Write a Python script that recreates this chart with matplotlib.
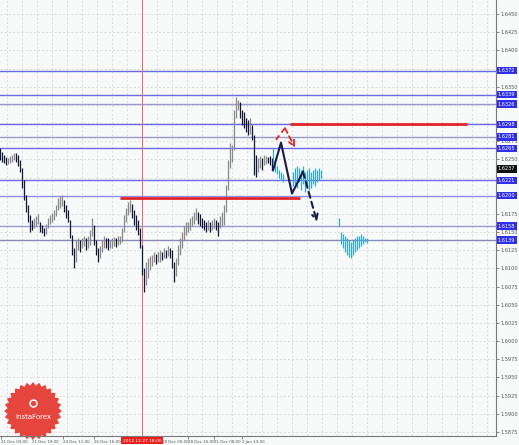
import numpy as np
import matplotlib
matplotlib.use("Agg")
import matplotlib.pyplot as plt

# ---- dados (barras H1, indice de barra = 2 px) ----
bar_x = np.arange(0, 137)
high = [1.6266, 1.6260, 1.6256, 1.6253, 1.6252, 1.6255, 1.6256, 1.6259, 1.6259, 1.6256,
        1.6249, 1.6238, 1.6222, 1.6201, 1.6187, 1.6174, 1.6167, 1.6169, 1.6172, 1.6175,
        1.6164, 1.6160, 1.6156, 1.6161, 1.6169, 1.6174, 1.6176, 1.6180, 1.6187, 1.6197,
        1.6200, 1.6201, 1.6194, 1.6187, 1.6180, 1.6167, 1.6146, 1.6128, 1.6139, 1.6142,
        1.6139, 1.6142, 1.6145, 1.6142, 1.6145, 1.6153, 1.6169, 1.6160, 1.6139, 1.6128,
        1.6131, 1.6139, 1.6145, 1.6142, 1.6142, 1.6139, 1.6142, 1.6143, 1.6142, 1.6145,
        1.6145, 1.6156, 1.6174, 1.6183, 1.6191, 1.6194, 1.6189, 1.6180, 1.6174, 1.6167,
        1.6156, 1.6132, 1.6100, 1.6109, 1.6114, 1.6117, 1.6118, 1.6122, 1.6120, 1.6122,
        1.6125, 1.6122, 1.6128, 1.6125, 1.6131, 1.6128, 1.6125, 1.6109, 1.6114, 1.6132,
        1.6142, 1.6150, 1.6158, 1.6164, 1.6164, 1.6169, 1.6172, 1.6178, 1.6183, 1.6178,
        1.6175, 1.6169, 1.6167, 1.6164, 1.6167, 1.6164, 1.6167, 1.6169, 1.6167, 1.6164,
        1.6172, 1.6178, 1.6187, 1.6215, 1.6249, 1.6273, 1.6270, 1.6318, 1.6336, 1.6332,
        1.6329, 1.6318, 1.6315, 1.6307, 1.6304, 1.6307, 1.6297, 1.6284, 1.6256, 1.6252,
        1.6255, 1.6252, 1.6256, 1.6255, 1.6253, 1.6255, 1.6252]
low = [1.6249, 1.6246, 1.6245, 1.6242, 1.6244, 1.6245, 1.6246, 1.6249, 1.6246, 1.6241,
       1.6233, 1.6211, 1.6194, 1.6178, 1.6164, 1.6150, 1.6153, 1.6156, 1.6158, 1.6161,
       1.6150, 1.6149, 1.6145, 1.6147, 1.6156, 1.6161, 1.6164, 1.6167, 1.6172, 1.6180,
       1.6183, 1.6186, 1.6178, 1.6169, 1.6164, 1.6142, 1.6118, 1.6100, 1.6109, 1.6125,
       1.6122, 1.6128, 1.6131, 1.6125, 1.6128, 1.6132, 1.6145, 1.6132, 1.6118, 1.6109,
       1.6114, 1.6122, 1.6128, 1.6128, 1.6125, 1.6128, 1.6128, 1.6131, 1.6129, 1.6132,
       1.6134, 1.6136, 1.6150, 1.6164, 1.6174, 1.6178, 1.6169, 1.6160, 1.6153, 1.6146,
       1.6128, 1.6091, 1.6068, 1.6077, 1.6087, 1.6098, 1.6103, 1.6109, 1.6106, 1.6109,
       1.6109, 1.6111, 1.6114, 1.6114, 1.6117, 1.6114, 1.6100, 1.6081, 1.6089, 1.6105,
       1.6118, 1.6128, 1.6139, 1.6146, 1.6150, 1.6153, 1.6158, 1.6161, 1.6167, 1.6161,
       1.6158, 1.6156, 1.6153, 1.6150, 1.6153, 1.6150, 1.6153, 1.6156, 1.6153, 1.6145,
       1.6156, 1.6158, 1.6160, 1.6178, 1.6208, 1.6238, 1.6246, 1.6263, 1.6307, 1.6318,
       1.6307, 1.6297, 1.6293, 1.6288, 1.6284, 1.6285, 1.6277, 1.6229, 1.6226, 1.6233,
       1.6238, 1.6235, 1.6242, 1.6244, 1.6245, 1.6242, 1.6235]

# previsao (barras azul-claro)
prev_x = [136.5, 137.5, 138.5, 139.5, 140.5, 141.5,
          146.5, 147.5, 148.5, 149.5, 150.5, 151.5, 152.5, 153.5, 154.5, 155.5, 156.5, 157.5,
          158.5, 159.5, 160.5,
          169.5,
          170.5, 171.5, 172.5, 173.5, 174.5, 175.5, 176.5, 177.5, 178.5, 179.5, 180.5, 181.5,
          182.5, 183.5]
prev_high = [1.6266, 1.6245, 1.6241, 1.6235, 1.6233, 1.6230,
             1.6233, 1.6238, 1.6241, 1.6238, 1.6235, 1.6241, 1.6233, 1.6235, 1.6238, 1.6233,
             1.6235, 1.6238, 1.6235, 1.6238, 1.6235,
             1.6169,
             1.6150, 1.6147, 1.6145, 1.6142, 1.6139, 1.6136, 1.6139, 1.6142, 1.6145, 1.6145,
             1.6147, 1.6145, 1.6142, 1.6142]
prev_low = [1.6245, 1.6233, 1.6230, 1.6224, 1.6222, 1.6219,
            1.6213, 1.6216, 1.6211, 1.6219, 1.6208, 1.6216, 1.6205, 1.6213, 1.6208, 1.6211,
            1.6216, 1.6213, 1.6219, 1.6222, 1.6224,
            1.6158,
            1.6134, 1.6128, 1.6122, 1.6118, 1.6116, 1.6114, 1.6118, 1.6122, 1.6125, 1.6128,
            1.6131, 1.6134, 1.6136, 1.6135]

# niveis horizontais
niveis = [1.6372, 1.6339, 1.6326, 1.6298, 1.6281, 1.6265, 1.6221, 1.6200, 1.6158, 1.6139]
niveis_cor = ['#6a6ae6', '#6a6ae6', '#9a9acc', '#6a6ae6', '#9a9acc',
              '#6a6ae6', '#6a6ae6', '#8f8fe8', '#9a9acc', '#8a8ab8']
preco_atual = 1.6237

# linhas vermelhas (resistencia / suporte)
red_x = [[145, 233.5], [60, 150]]
red_y = [[1.6298, 1.6298], [1.6197, 1.6197]]

# setas de previsao
seta_vermelha_x = [138, 142.5, 147.5]
seta_vermelha_y = [1.6277, 1.6293, 1.6266]
seta_azul_x = [136.5, 140.5, 146, 151.5]
seta_azul_y = [1.6235, 1.6273, 1.6203, 1.6233]
seta_azul_fim_x = [151.5, 158.5]
seta_azul_fim_y = [1.6233, 1.6164]

yticks = np.arange(1.5875, 1.6451, 0.0025)
xtick_pos = [0.5, 16, 31.5, 47, 81, 94, 107, 121]
xtick_lab = ['21 Dec 03:00', '21 Dec 19:00', '24 Dec 11:00', '26 Dec 16:00',
             '28 Dec 00:00', '28 Dec 16:00', '31 Dec 08:00', '2 Jan 13:00']
cursor_x = 71
cursor_lab = '2012.12.27 18:00'

fundo = '#f7faf8'

fig = plt.figure(figsize=(5.19, 4.45), dpi=100, facecolor=fundo)

# eixo auxiliar em pixels (so para posicionar o logo)
ov = fig.add_axes([0, 0, 1, 1], facecolor='none', zorder=0)
ov.set_xlim(0, 519)
ov.set_ylim(445, 0)
ov.axis('off')

ax = fig.add_axes([0, 9 / 445, 496 / 519, 436 / 445], facecolor='none', zorder=1)
ax.set_xlim(0, 248)
ax.set_ylim(1.58693, 1.64693)

# grade pontilhada
for gx in np.arange(3.5, 248, 7.5):
    ax.axvline(gx, color='#cfd3cf', lw=0.5, ls=(0, (3, 3)), zorder=0)
for gy in yticks:
    ax.axhline(gy, color='#cfd3cf', lw=0.5, ls=(0, (3, 3)), zorder=0)

# niveis
for nv, cor in zip(niveis, niveis_cor):
    ax.axhline(nv, color=cor, lw=1.0, zorder=1)

ax.axvline(cursor_x, color='#e06a6a', lw=0.7, zorder=1)

for xs, ys in zip(red_x, red_y):
    ax.plot(xs, ys, color='#e3242b', lw=2.0, solid_capstyle='butt', zorder=3)

# barras de preco
high = np.array(high)
low = np.array(low)
meio = (high + low) / 2
cores = ['#8a8a8a' if i > 0 and meio[i] >= meio[i - 1] else '#16163a' for i in range(len(meio))]
ax.vlines(bar_x, low, high, colors=cores, lw=0.9, zorder=2)

ax.vlines(prev_x, prev_low, prev_high, colors='#35aacf', lw=0.9, zorder=2)

# setas
ax.plot(seta_vermelha_x[:-1], seta_vermelha_y[:-1], color='#e3242b', lw=1.3, ls=(0, (3, 2)), zorder=4)
ax.annotate('', xy=(seta_vermelha_x[-1], seta_vermelha_y[-1]),
            xytext=(seta_vermelha_x[-2], seta_vermelha_y[-2]),
            arrowprops=dict(arrowstyle='->', color='#e3242b', lw=1.3, ls=(0, (3, 2)),
                            shrinkA=0, shrinkB=0), zorder=4)
ax.plot(seta_azul_x, seta_azul_y, color='#1b1b4b', lw=1.5, zorder=4)
ax.annotate('', xy=(seta_azul_fim_x[1], seta_azul_fim_y[1]),
            xytext=(seta_azul_fim_x[0], seta_azul_fim_y[0]),
            arrowprops=dict(arrowstyle='->', color='#1b1b4b', lw=1.5, ls=(0, (3, 2)),
                            shrinkA=0, shrinkB=0), zorder=4)

# logo InstaForex (acima da grade, abaixo dos rotulos do eixo)
ang = np.linspace(0, 2 * np.pi, 57)
raio = np.where(np.arange(57) % 2 == 0, 28, 24.5)
ax.fill(33 + raio * np.cos(ang), 411 + raio * np.sin(ang), color='#e5453c',
        transform=ov.transData, clip_on=False, zorder=2.2)
ax.plot(33, 403, 'o', ms=5, mfc='none', mec='white', mew=1.1,
        transform=ov.transData, clip_on=False, zorder=2.3)
ax.text(33, 417, 'InstaForex', color='white', fontsize=5, ha='center', va='center',
        transform=ov.transData, clip_on=False, zorder=2.3)

# eixos
for s in ['left', 'top']:
    ax.spines[s].set_visible(False)
for s in ['right', 'bottom']:
    ax.spines[s].set_color('#7a7a7a')
    ax.spines[s].set_linewidth(0.8)
ax.yaxis.tick_right()
# rotulos escondidos pelas caixas de nivel ficam de fora
ytick_vis = [v for v in yticks if min(abs(v - n) for n in niveis + [preco_atual]) > 0.0005]
ax.set_yticks(ytick_vis)
ax.set_yticklabels([f'{v:.4f}' for v in ytick_vis])
ax.tick_params(axis='y', labelsize=3.6, length=2, pad=1.5, colors='#555555', width=0.5)
ax.set_xticks(xtick_pos)
ax.set_xticklabels(xtick_lab)
ax.tick_params(axis='x', labelsize=2.9, length=2, pad=1, colors='#555555', width=0.5)
for lab in ax.get_xticklabels():
    lab.set_ha('left')

# caixas de preco no eixo direito
trans = ax.get_yaxis_transform()
for nv in niveis:
    ax.text(1.004, nv, f'{nv:.4f}', transform=trans, fontsize=3.6, color='white',
            ha='left', va='center', clip_on=False, zorder=10,
            bbox=dict(boxstyle='square,pad=0.25', fc='#2f2fe8', ec='none'))
ax.text(1.004, preco_atual, f'{preco_atual:.4f}', transform=trans, fontsize=3.6, color='white',
        ha='left', va='center', clip_on=False, zorder=10,
        bbox=dict(boxstyle='square,pad=0.25', fc='#111111', ec='none'))

# rotulo do cursor
ax.text(cursor_x, -0.006, cursor_lab, transform=ax.get_xaxis_transform(), fontsize=3.2,
        color='white', ha='center', va='top', clip_on=False, zorder=10,
        bbox=dict(boxstyle='square,pad=0.3', fc='#e8201e', ec='none'))

fig.savefig('out.png', dpi=100, facecolor=fundo)
